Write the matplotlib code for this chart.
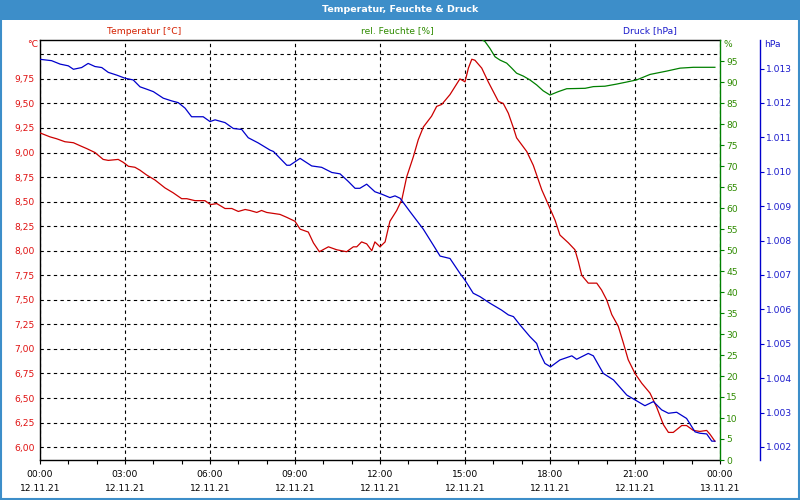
import matplotlib
matplotlib.use("Agg")
import matplotlib.pyplot as plt
from matplotlib.patches import Rectangle
from matplotlib.ticker import FixedLocator, MultipleLocator

plt.rcParams['font.family'] = ['DejaVu Sans']

# ---------------- data ----------------
x_tick_hours = [0, 3, 6, 9, 12, 15, 18, 21, 24]
x_tick_labels = ["00:00\n12.11.21", "03:00\n12.11.21", "06:00\n12.11.21",
                 "09:00\n12.11.21", "12:00\n12.11.21", "15:00\n12.11.21",
                 "18:00\n12.11.21", "21:00\n12.11.21", "00:00\n13.11.21"]

temp_ticks = [6.00, 6.25, 6.50, 6.75, 7.00, 7.25, 7.50, 7.75, 8.00,
              8.25, 8.50, 8.75, 9.00, 9.25, 9.50, 9.75, 10.00]
hum_ticks = [0, 5, 10, 15, 20, 25, 30, 35, 40, 45, 50, 55, 60, 65, 70, 75,
             80, 85, 90, 95]
pres_ticks = [1002, 1003, 1004, 1005, 1006, 1007, 1008, 1009, 1010, 1011,
              1012, 1013]

temp_hours = [0.00, 0.35, 0.59, 0.88, 1.18, 1.41, 1.65, 1.94, 2.23, 2.41,
              2.76, 2.94, 3.12, 3.35, 3.53, 3.77, 4.06, 4.41, 4.70, 5.00,
              5.18, 5.47, 5.82, 6.02, 6.24, 6.53, 6.77, 7.00, 7.24, 7.41,
              7.65, 7.82, 8.00, 8.47, 8.71, 9.00, 9.18, 9.47, 9.65, 9.86,
              10.18, 10.47, 10.82, 11.06, 11.18, 11.35, 11.53, 11.71, 11.82,
              12.00, 12.18, 12.35, 12.59, 12.77, 12.94, 13.18, 13.35, 13.53,
              13.82, 14.00, 14.18, 14.47, 14.82, 15.00, 15.12, 15.24, 15.35,
              15.59, 15.82, 16.00, 16.18, 16.35, 16.53, 16.71, 16.82, 17.00,
              17.18, 17.41, 17.71, 17.94, 18.18, 18.35, 18.65, 18.88, 19.00,
              19.12, 19.35, 19.65, 19.82, 20.00, 20.18, 20.41, 20.59, 20.76,
              21.00, 21.24, 21.53, 21.76, 22.00, 22.18, 22.35, 22.65, 22.82,
              23.06, 23.29, 23.53, 23.65, 23.82]
temp_values = [9.20, 9.16, 9.14, 9.11, 9.10, 9.07, 9.04, 9.00, 8.93, 8.92,
               8.93, 8.90, 8.86, 8.85, 8.82, 8.77, 8.72, 8.64, 8.59, 8.53,
               8.53, 8.51, 8.51, 8.47, 8.48, 8.43, 8.43, 8.40, 8.42, 8.41,
               8.39, 8.41, 8.39, 8.37, 8.34, 8.30, 8.22, 8.19, 8.08, 7.99,
               8.04, 8.01, 7.99, 8.04, 8.04, 8.09, 8.07, 8.00, 8.09,
               8.04, 8.09, 8.30, 8.41, 8.52, 8.75, 8.96, 9.13, 9.26,
               9.37, 9.47, 9.49, 9.59, 9.75, 9.72, 9.86, 9.95, 9.94,
               9.86, 9.72, 9.62, 9.52, 9.50, 9.40, 9.25, 9.15, 9.08,
               9.01, 8.87, 8.62, 8.47, 8.31, 8.16, 8.08, 8.01, 7.89,
               7.75, 7.67, 7.67, 7.60, 7.50, 7.35, 7.23, 7.06, 6.89,
               6.75, 6.65, 6.55, 6.41, 6.23, 6.15, 6.15, 6.22, 6.22,
               6.17, 6.16, 6.17, 6.13, 6.06]

hum_hours = [15.62, 15.71, 15.88, 16.06, 16.24, 16.47, 16.65, 16.82, 17.06,
             17.29, 17.53, 17.76, 18.00, 18.29, 18.59, 19.24, 19.53, 19.94,
             20.35, 20.71, 21.06, 21.53, 22.12, 22.59, 23.06, 23.82]
hum_values = [100.0, 99.6, 98.0, 96.0, 95.2, 94.5, 93.3, 92.1, 91.4,
              90.5, 89.3, 87.9, 86.9, 87.7, 88.4, 88.5, 88.9, 89.0,
              89.5, 90.0, 90.5, 91.8, 92.6, 93.3, 93.5, 93.5]

pres_hours = [0.00, 0.41, 0.71, 1.00, 1.18, 1.47, 1.70, 1.94, 2.18, 2.41,
              2.71, 3.00, 3.29, 3.53, 3.77, 4.00, 4.35, 4.65, 4.88, 5.12,
              5.35, 5.76, 6.00, 6.18, 6.53, 6.82, 7.12, 7.35, 7.70, 8.12,
              8.24, 8.71, 8.82, 9.18, 9.59, 9.94, 10.30, 10.59, 10.88, 11.12,
              11.29, 11.53, 11.82, 12.06, 12.35, 12.53, 12.71, 13.06, 13.53,
              13.88, 14.12, 14.47, 14.82, 15.00, 15.29, 15.53, 15.88, 16.29,
              16.53, 16.71, 16.94, 17.29, 17.53, 17.65, 17.82, 18.02, 18.35,
              18.77, 18.94, 19.35, 19.53, 19.88, 20.24, 20.71, 21.00, 21.35,
              21.65, 21.94, 22.18, 22.47, 22.82, 23.12, 23.29, 23.53, 23.71,
              23.82]
pres_values = [1013.27, 1013.23, 1013.13, 1013.08, 1012.98, 1013.03, 1013.15,
               1013.06, 1013.03, 1012.89, 1012.81, 1012.72, 1012.67, 1012.47,
               1012.40, 1012.33, 1012.14, 1012.06, 1012.01, 1011.85, 1011.60,
               1011.60, 1011.46, 1011.51, 1011.43, 1011.26, 1011.23, 1010.99,
               1010.84, 1010.63, 1010.59, 1010.19, 1010.19, 1010.39, 1010.17,
               1010.13, 1009.98, 1009.94, 1009.72, 1009.52, 1009.52, 1009.64,
               1009.42, 1009.35, 1009.25, 1009.30, 1009.23, 1008.84, 1008.33,
               1007.87, 1007.55, 1007.48, 1007.05, 1006.85, 1006.47, 1006.37,
               1006.18, 1005.98, 1005.84, 1005.79, 1005.55, 1005.21, 1005.01,
               1004.72, 1004.43, 1004.33, 1004.53, 1004.65, 1004.55, 1004.72,
               1004.65, 1004.14, 1003.95, 1003.51, 1003.37, 1003.20, 1003.32,
               1003.08, 1002.98, 1003.01, 1002.83, 1002.44, 1002.40, 1002.38,
               1002.17, 1002.17]

# ---------------- style ----------------
FS = 6.6
RED_LINE = '#cc0000'
RED_TXT = '#e01010'
GREEN_LINE = '#008000'
GREEN_TXT = '#2e8b00'
BLUE_LINE = '#0000cc'
BLUE_TXT = '#1a1acc'
BAR = '#3d8ec9'
DASH = (0, (3, 3))

fig = plt.figure(figsize=(8, 5), dpi=100)
fig.patch.set_facecolor('white')

# title bar and frame
fig.add_artist(Rectangle((0, 0.96), 1, 0.04, transform=fig.transFigure,
                         facecolor=BAR, edgecolor='none', zorder=0))
fig.add_artist(Rectangle((0.0012, 0.002), 0.9976, 0.997, transform=fig.transFigure,
                         fill=False, edgecolor=BAR, lw=1.5, zorder=0))
fig.text(0.5, 1 - 9.5 / 500, "Temperatur, Feuchte & Druck", ha='center', va='center',
         color='white', fontsize=FS + 0.2, fontweight='bold')

ax = fig.add_axes([0.05, 0.08, 0.85, 0.84])
ax.set_xlim(0, 24)
ax.set_ylim(5.869, 10.146)

ax.plot(temp_hours, temp_values, color=RED_LINE, lw=0.9, zorder=3)

ax.xaxis.set_major_locator(FixedLocator(x_tick_hours))
ax.xaxis.set_minor_locator(MultipleLocator(1))
ax.set_xticklabels(x_tick_labels)
ax.tick_params(axis='x', which='both', direction='out', length=3, width=0.8,
               color='black', labelsize=FS, pad=4)
plt.setp(ax.get_xticklabels(), linespacing=1.75)

ax.yaxis.set_major_locator(FixedLocator(temp_ticks))
ax.set_yticklabels([("%.2f" % v).replace('.', ',') if v < 10 else '' for v in temp_ticks])
ax.tick_params(axis='y', length=0, labelsize=FS, labelcolor=RED_TXT, pad=4)

ax.grid(True, which='major', axis='both', color='black', lw=0.8, linestyle=DASH)
ax.set_axisbelow(True)
for s in ['left', 'top', 'bottom']:
    ax.spines[s].set_color('black')
    ax.spines[s].set_linewidth(1.0)
ax.spines['right'].set_visible(False)

# humidity axis
axh = ax.twinx()
axh.set_ylim(0, 100)
axh.plot(hum_hours, hum_values, color=GREEN_LINE, lw=0.9)
axh.yaxis.set_major_locator(FixedLocator(hum_ticks))
axh.set_yticklabels([str(v) for v in hum_ticks])
axh.tick_params(axis='y', direction='out', length=3, width=0.8, color=GREEN_LINE,
                labelcolor=GREEN_TXT, labelsize=FS, pad=1.5)
for s in ['left', 'top', 'bottom']:
    axh.spines[s].set_visible(False)
axh.spines['right'].set_color(GREEN_LINE)
axh.spines['right'].set_linewidth(1.0)

# pressure axis
axp = ax.twinx()
axp.set_ylim(1001.622, 1013.831)
axp.plot(pres_hours, pres_values, color=BLUE_LINE, lw=0.9)
axp.yaxis.set_major_locator(FixedLocator(pres_ticks))
axp.set_yticklabels(["%.3f" % (v / 1000) for v in pres_ticks])
axp.tick_params(axis='y', direction='out', length=3, width=0.8, color=BLUE_LINE,
                labelcolor=BLUE_TXT, labelsize=FS, pad=1.5)
for s in ['left', 'top', 'bottom']:
    axp.spines[s].set_visible(False)
axp.spines['right'].set_position(('axes', 720 / 680))
axp.spines['right'].set_color(BLUE_LINE)
axp.spines['right'].set_linewidth(1.0)

# axis captions
yc = 1 - 31 / 500
fig.text(144 / 800, yc, "Temperatur [°C]", ha='center', va='center', color='#d42000', fontsize=FS)
fig.text(397 / 800, yc, "rel. Feuchte [%]", ha='center', va='center', color=GREEN_TXT, fontsize=FS)
fig.text(650 / 800, yc, "Druck [hPa]", ha='center', va='center', color=BLUE_TXT, fontsize=FS)
yu = 1 - 44.5 / 500
fig.text(38 / 800, yu, "°C", ha='right', va='center', color=RED_TXT, fontsize=FS)
fig.text(724 / 800, yu, "%", ha='left', va='center', color=GREEN_TXT, fontsize=FS)
fig.text(764 / 800, yu, "hPa", ha='left', va='center', color=BLUE_TXT, fontsize=FS)

fig.savefig('out.png', dpi=100)
